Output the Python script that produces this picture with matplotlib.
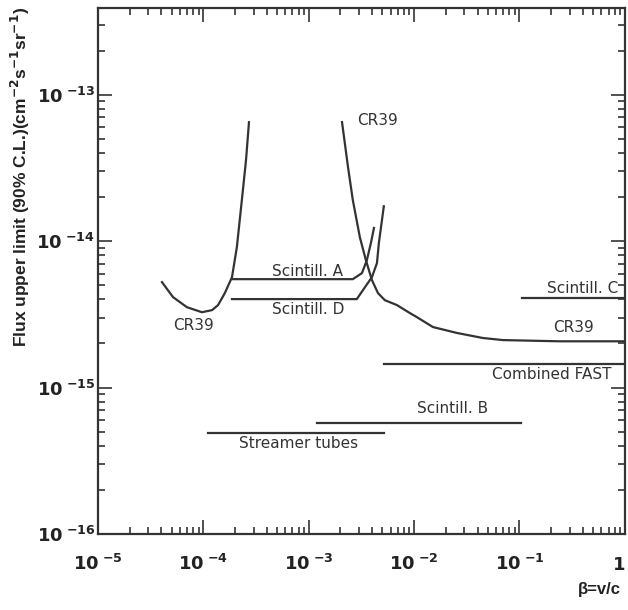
import matplotlib
matplotlib.use("Agg")
import matplotlib.pyplot as plt
from matplotlib.ticker import LogLocator, NullFormatter, FixedLocator, FixedFormatter
from matplotlib.transforms import ScaledTranslation

plt.rcParams['font.family'] = ['Liberation Sans', 'DejaVu Sans']

# CR39, low-beta branch
cr39_lo_beta = [4.05e-5, 5.15e-5, 6.98e-5, 9.7e-5, 1.21e-4, 1.38e-4, 1.60e-4,
                1.87e-4, 2.08e-4, 2.32e-4, 2.54e-4, 2.71e-4]
cr39_lo_flux = [5.25e-15, 4.15e-15, 3.54e-15, 3.27e-15, 3.38e-15, 3.66e-15, 4.42e-15,
                5.68e-15, 9.1e-15, 1.91e-14, 3.57e-14, 6.49e-14]

# CR39, high-beta branch
cr39_hi_beta = [2.07e-3, 2.36e-3, 2.62e-3, 3.06e-3, 3.49e-3, 3.98e-3, 4.54e-3, 5.28e-3,
                6.87e-3, 9.1e-3, 1.06e-2, 1.51e-2, 2.55e-2, 4.5e-2, 6.97e-2, 0.241, 1.0]
cr39_hi_flux = [6.5e-14, 3.2e-14, 1.91e-14, 1.06e-14, 7.4e-15, 5.42e-15, 4.42e-15, 3.95e-15,
                3.66e-15, 3.23e-15, 3.03e-15, 2.59e-15, 2.36e-15, 2.18e-15, 2.11e-15, 2.07e-15,
                2.07e-15]

# Scintillators
scA_beta = [1.87e-4, 2.62e-3, 3.2e-3, 3.56e-3, 3.89e-3, 4.16e-3]
scA_flux = [5.5e-15, 5.5e-15, 6.05e-15, 7.4e-15, 9.7e-15, 1.23e-14]
scD_beta = [1.87e-4, 2.86e-3, 3.27e-3, 3.98e-3, 4.44e-3, 4.63e-3, 5.16e-3]
scD_flux = [4.02e-15, 4.02e-15, 4.63e-15, 5.68e-15, 7.08e-15, 9.7e-15, 1.73e-14]
scB_beta = [1.2e-3, 0.103]
scB_flux = [5.72e-16, 5.72e-16]
scC_beta = [0.105, 1.0]
scC_flux = [4.08e-15, 4.08e-15]

streamer_beta = [1.11e-4, 5.16e-3]
streamer_flux = [4.89e-16, 4.89e-16]
fast_beta = [5.16e-3, 1.0]
fast_flux = [1.44e-15, 1.44e-15]

# curve labels: text, beta, flux
labels = [("CR39", 8.1e-5, 2.67e-15),
          ("CR39", 4.54e-3, 6.7e-14),
          ("Scintill. A", 9.8e-4, 6.24e-15),
          ("Scintill. D", 9.8e-4, 3.44e-15),
          ("Scintill. C", 0.40, 4.78e-15),
          ("CR39", 0.328, 2.59e-15),
          ("Combined FAST", 0.203, 1.22e-15),
          ("Scintill. B", 0.0233, 7.24e-16),
          ("Streamer tubes", 8.07e-4, 4.18e-16)]

xticks = [1e-5, 1e-4, 1e-3, 1e-2, 1e-1, 1]
xticklabels = [r'$\mathbf{10}^{\ \mathbf{-5}}$', r'$\mathbf{10}^{\ \mathbf{-4}}$',
               r'$\mathbf{10}^{\ \mathbf{-3}}$', r'$\mathbf{10}^{\ \mathbf{-2}}$',
               r'$\mathbf{10}^{\ \mathbf{-1}}$', r'$\mathbf{1}$']
yticks = [1e-16, 1e-15, 1e-14, 1e-13]
yticklabels = [r'$\mathbf{10}^{\ \mathbf{-16}}$', r'$\mathbf{10}^{\ \mathbf{-15}}$',
               r'$\mathbf{10}^{\ \mathbf{-14}}$', r'$\mathbf{10}^{\ \mathbf{-13}}$']

col = '#333333'
fig = plt.figure(figsize=(6.28, 6.10), dpi=100)
ax = fig.add_axes([0.156, 0.1246, 0.839, 0.862])

lw = 1.6
ax.plot(cr39_lo_beta, cr39_lo_flux, color=col, lw=lw)
ax.plot(cr39_hi_beta, cr39_hi_flux, color=col, lw=lw)
ax.plot(scA_beta, scA_flux, color=col, lw=lw)
ax.plot(scD_beta, scD_flux, color=col, lw=lw)
ax.plot(scB_beta, scB_flux, color=col, lw=lw)
ax.plot(scC_beta, scC_flux, color=col, lw=lw)
ax.plot(streamer_beta, streamer_flux, color=col, lw=lw)
ax.plot(fast_beta, fast_flux, color=col, lw=lw)

for txt, bx, fy in labels:
    ax.text(bx, fy, txt, ha='center', va='center', fontsize=11, color=col,
            family='DejaVu Sans')

ax.set_xscale('log')
ax.set_yscale('log')
ax.set_xlim(1e-5, 1)
ax.set_ylim(1e-16, 3.9e-13)

ax.xaxis.set_major_locator(FixedLocator(xticks))
ax.xaxis.set_major_formatter(FixedFormatter(xticklabels))
ax.yaxis.set_major_locator(FixedLocator(yticks))
ax.yaxis.set_major_formatter(FixedFormatter(yticklabels))
ax.xaxis.set_minor_locator(LogLocator(base=10, subs=range(2, 10), numticks=20))
ax.yaxis.set_minor_locator(LogLocator(base=10, subs=range(2, 10), numticks=20))
ax.xaxis.set_minor_formatter(NullFormatter())
ax.yaxis.set_minor_formatter(NullFormatter())

ax.tick_params(which='both', direction='in', top=True, right=True, colors=col,
               labelcolor='#222222', width=1.2)
ax.tick_params(which='major', length=10, labelsize=13)
ax.tick_params(which='minor', length=5)
ax.tick_params(axis='x', which='major', pad=14)
ax.tick_params(axis='y', which='major', pad=2)
for s in ax.spines.values():
    s.set_linewidth(1.6)
    s.set_color(col)

fig.canvas.draw()
# the lone "1" has no exponent: right-align it and drop it to the "10" baseline
one = ax.get_xticklabels()[-1]
one.set_horizontalalignment('right')
one.set_transform(one.get_transform() + ScaledTranslation(0, -2.5 / 72, fig.dpi_scale_trans))

fig.text(0.032, 0.71, 'Flux upper limit (90% C.L.)(cm$^{\\mathbf{-2}}$s$^{\\mathbf{-1}}$sr$^{\\mathbf{-1}}$)',
         rotation=90, ha='center', va='center', fontsize=12.5, fontweight='bold', color='#222222')
fig.text(0.955, 0.033, '\u03b2=v/c', ha='center', va='center', fontsize=12,
         fontweight='bold', color='#222222')

fig.savefig('out.png', dpi=100)
